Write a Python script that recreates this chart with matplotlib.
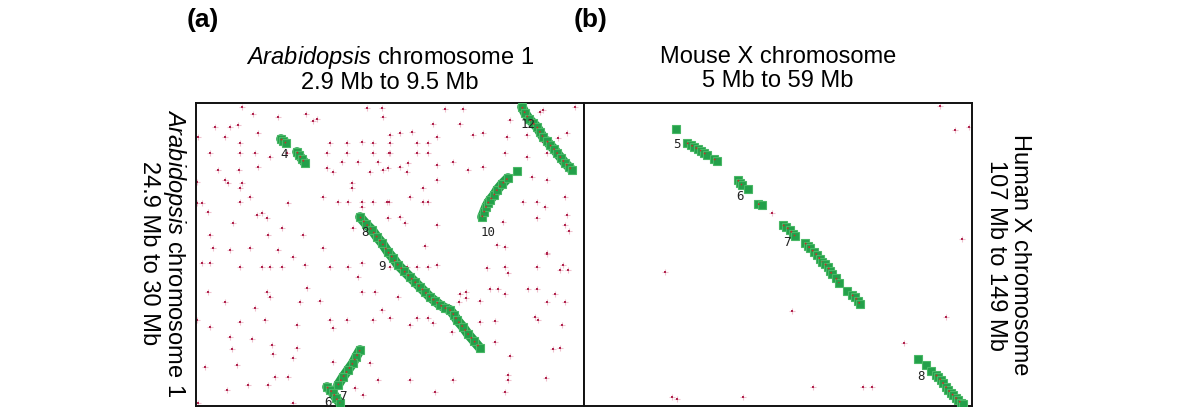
import numpy as np
import matplotlib
matplotlib.use('Agg')
import matplotlib.pyplot as plt

plt.rcParams['font.family'] = ['Liberation Sans', 'DejaVu Sans']
plt.rcParams['mathtext.fontset'] = 'custom'
plt.rcParams['mathtext.rm'] = 'Liberation Sans'
plt.rcParams['mathtext.it'] = 'Liberation Sans:italic'

# dot-plot grid units (x to the right, y downwards), panel size 388 x 303 cells
panel_w, panel_h = 388, 303

# ---------------- panel (a): Arabidopsis chr1 vs chr1 ----------------
a_blocks = {
    '4': [[(85, 36), (87, 38), (90, 40)],
          [(101, 49), (103, 52), (106, 56), (109, 60)]],
    '8': [[(164, 114), (170, 121), (176, 127), (181, 134), (186, 140), (192, 149),
           (197, 155), (202, 162), (208, 168), (214, 174), (219, 179), (224, 184),
           (229, 189), (234, 194), (239, 198), (244, 202), (249, 205), (254, 207),
           (258, 212), (261, 217), (267, 224), (272, 231), (278, 238), (284, 245)]],
    '10': [[(286, 114), (288, 109), (290, 104), (292, 100), (294, 97), (298, 92),
            (301, 87), (306, 81), (312, 75)], [(321, 68)]],
    '12': [[(326, 4), (329, 10), (333, 16), (337, 20), (341, 24), (344, 29), (347, 34)],
           [(351, 38), (354, 42), (358, 46), (361, 50), (365, 55), (369, 60), (373, 64), (376, 67)]],
    '7': [[(164, 247), (160, 254), (157, 260), (152, 267), (147, 274), (142, 282)]],
    '6': [[(131, 284), (134, 287), (137, 290), (140, 295), (144, 300)]],
}
a_labels = {'4': (88, 52), '8': (169, 129), '9': (186, 163), '10': (292, 130),
            '12': (332, 21), '6': (132, 300), '7': (147, 293)}

a_dots_x = [46, 57, 82, 110, 117, 121, 19, 34, 42, 62, 2, 29, 44, 134, 151, 177, 166,
            14, 44, 59, 74, 91, 131, 151, 177, 193, 146, 182, 162, 22, 43, 62, 131, 137,
            174, 187, 1, 29, 32, 46, 44, 156, 156, 54, 127, 1, 6, 44, 92, 142, 152, 166,
            177, 191, 66, 61, 71, 12, 37, 166, 14, 72, 107, 86, 127, 157, 17, 34, 54, 82,
            187, 249, 267, 344, 379, 237, 264, 314, 194, 204, 216, 241, 277, 287, 311, 331,
            362, 371, 194, 221, 232, 347, 194, 221, 232, 257, 309, 331, 351, 192, 204, 212,
            211, 241, 272, 287, 241, 351, 336, 227, 214, 227, 232, 193, 327, 341, 349, 369,
            192, 204, 241, 307, 341, 369, 373, 371, 209, 229, 301, 309, 351,
            6, 14, 44, 66, 74, 86, 97, 109, 134, 152, 166, 12, 71, 111, 166, 179, 29, 74,
            104, 124, 162, 59, 186, 1, 14, 44, 69, 101, 134, 151, 177, 34, 56, 137, 36, 76,
            101, 77, 97, 174, 9, 41, 137, 79, 92, 182, 31, 52, 72, 159, 167, 2, 97,
            351, 367, 372, 364, 194, 211, 221, 232, 241, 291, 309, 312, 341, 294, 302, 332,
            341, 309, 359, 264, 270, 270, 263, 284, 351, 369, 202, 194, 221, 232, 214, 237,
            284, 299, 339, 342, 366, 256, 299, 357, 364, 314, 214, 257, 312, 350, 312, 239,
            309, 171, 186, 347]
a_dots_y = [4, 11, 14, 11, 18, 16, 24, 24, 22, 30, 34, 34, 40, 40, 40, 40, 39,
            50, 50, 50, 54, 50, 50, 50, 50, 50, 59, 59, 59, 67, 67, 64, 65, 69,
            69, 67, 79, 77, 80, 80, 85, 80, 85, 94, 94, 100, 100, 99, 100, 99, 99, 99,
            99, 99, 110, 112, 115, 109, 120, 104, 132, 132, 132, 125, 145, 125, 145, 147, 145, 147,
            14, 6, 6, 9, 4, 21, 21, 17, 32, 30, 29, 34, 32, 30, 34, 32,
            35, 30, 40, 40, 40, 39, 50, 50, 50, 59, 50, 54, 50, 65, 64, 60,
            69, 62, 67, 64, 77, 77, 74, 85, 94, 99, 99, 99, 99, 99, 104, 94,
            115, 114, 122, 119, 115, 122, 128, 112, 120, 143, 142, 144, 150,
            160, 160, 164, 164, 164, 164, 154, 162, 164, 164, 160, 189, 189, 185, 189, 189, 199, 194,
            199, 198, 174, 205, 207, 217, 224, 219, 217, 222, 217, 217, 217, 234, 236, 225, 246, 242,
            245, 251, 255, 260, 264, 262, 259, 274, 274, 277, 287, 282, 282, 285, 292, 300, 300,
            151, 162, 167, 167, 164, 164, 164, 164, 162, 165, 164, 170, 164, 186, 186, 186,
            186, 191, 191, 191, 189, 195, 199, 198, 199, 199, 194, 215, 215, 215, 222, 220,
            219, 218, 214, 217, 222, 229, 239, 246, 245, 253, 277, 277, 277, 275, 272, 289,
            289, 5, 5, 7]

# ---------------- panel (b): Mouse X vs Human X ----------------
b_blocks = {
    '5': [[(92, 26)], [(103, 40), (107, 42), (110, 44), (114, 46), (117, 48)],
          [(120, 50), (123, 52)], [(130, 56), (133, 58)]],
    '6': [[(154, 77), (156, 80), (158, 82)], [(164, 86)], [(174, 101), (178, 102)]],
    '7': [[(199, 122), (202, 124), (206, 127), (209, 131), (211, 133)],
          [(221, 140), (224, 143), (226, 145), (230, 149), (233, 152), (236, 156), (238, 159)],
          [(241, 161), (244, 164), (246, 168), (248, 171)], [(252, 175), (255, 180)],
          [(263, 188)], [(268, 192), (271, 194), (274, 198), (276, 201)]],
    '8': [[(334, 256)], [(342, 262)], [(347, 268)],
          [(352, 272), (354, 274), (357, 277), (359, 280), (362, 284), (364, 287),
           (367, 290), (369, 292), (372, 295), (374, 297), (377, 300), (379, 301)]],
}
b_labels = {'5': (93, 42), '6': (156, 94), '7': (203, 139), '8': (337, 273)}

b_dots_x = [188, 356, 371, 385, 378, 81, 88, 93, 159, 208, 362, 320, 229, 279, 288]
b_dots_y = [110, 3, 27, 24, 136, 169, 294, 296, 294, 208, 214, 240, 284, 284, 284]

# ---------------- drawing ----------------
green = '#23a04a'
green_edge = '#49b866'
red = '#c4302b'
fs = 17

fig = plt.figure(figsize=(12, 4.2), dpi=100)
ax_a = fig.add_axes([196 / 1200, 1 - 406 / 420, 388 / 1200, 303 / 420])
ax_b = fig.add_axes([584 / 1200, 1 - 406 / 420, 388 / 1200, 303 / 420])


def draw_panel(ax, blocks, labels, dots_x, dots_y, band):
    ax.scatter(dots_x, dots_y, marker='+', s=18, color='#efc3cf', linewidths=0.8, zorder=1)
    ax.scatter(dots_x, dots_y, marker='s', s=3, color='#b0244e', linewidths=0, zorder=2)
    for pieces in blocks.values():
        for pts in pieces:
            xs = [p[0] for p in pts]
            ys = [p[1] for p in pts]
            if band and len(pts) > 1:
                ax.plot(xs, ys, color=green, lw=7, solid_capstyle='round', zorder=3)
            ax.plot(xs, ys, ls='none', marker='s', ms=6, mfc=green, mec=green_edge,
                    mew=0.8, zorder=4)
            ax.plot(xs, ys, ls=(0, (1, 2)), color=red, lw=1.2, zorder=5)
    for txt, (x, y) in labels.items():
        ax.text(x, y, txt, fontsize=9, color='#222222', ha='center', va='center',
                family='DejaVu Sans Mono', zorder=6)
    ax.set_xlim(0, panel_w)
    ax.set_ylim(panel_h, 0)
    ax.set_xticks([])
    ax.set_yticks([])
    for s in ax.spines.values():
        s.set_linewidth(1.4)
        s.set_color('#111111')


draw_panel(ax_a, a_blocks, a_labels, a_dots_x, a_dots_y, True)
draw_panel(ax_b, b_blocks, b_labels, b_dots_x, b_dots_y, False)

# titles and side labels
fig.text(203 / 1200, 1 - 20 / 420, '(a)', fontsize=19, fontweight='bold', ha='center', va='center')
fig.text(591 / 1200, 1 - 20 / 420, '(b)', fontsize=19, fontweight='bold', ha='center', va='center')

fig.text(390 / 1200, 1 - 69 / 420, '$\\it{Arabidopsis}$ chromosome 1\n2.9 Mb to 9.5 Mb',
         fontsize=fs, ha='center', va='center', linespacing=1.1)
fig.text(778 / 1200, 1 - 69 / 420, 'Mouse X chromosome\n5 Mb to 59 Mb',
         fontsize=fs, ha='center', va='center', linespacing=1.1)

fig.text(163 / 1200, 1 - 253 / 420, '$\\it{Arabidopsis}$ chromosome 1\n24.9 Mb to 30 Mb',
         fontsize=fs, ha='center', va='center', rotation=270, linespacing=1.1)
fig.text(1008 / 1200, 1 - 255 / 420, 'Human X chromosome\n107 Mb to 149 Mb',
         fontsize=fs, ha='center', va='center', rotation=270, linespacing=1.1)

plt.savefig('out.png', dpi=100)
